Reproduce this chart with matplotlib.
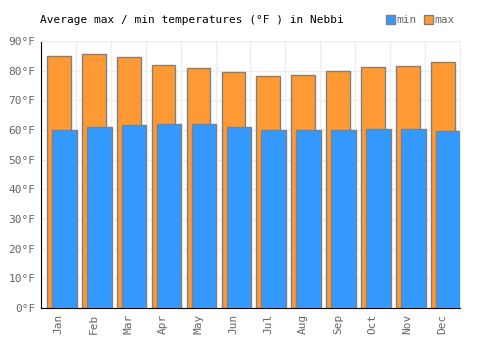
import matplotlib
matplotlib.use("Agg")
import matplotlib.pyplot as plt
import matplotlib.patches as mpatches
import numpy as np

months = ["Jan", "Feb", "Mar", "Apr", "May", "Jun", "Jul", "Aug", "Sep", "Oct", "Nov", "Dec"]
max_temp = [84.9, 85.6, 84.6, 81.9, 80.9, 79.5, 78.2, 78.5, 79.9, 81.2, 81.6, 82.9]
min_temp = [60.0, 61.0, 61.7, 62.0, 62.0, 61.0, 60.0, 60.0, 60.0, 60.3, 60.3, 59.7]
yticks = [0, 10, 20, 30, 40, 50, 60, 70, 80, 90]

plt.rcParams["font.family"] = ["DejaVu Sans Mono"]

fig = plt.figure(figsize=(5, 3.5), dpi=100)
ax = fig.add_axes([0.082, 0.12, 0.838, 0.763])

x = np.arange(len(months))
orange = "#ff9933"
blue = "#3399ff"
edge = "#808080"

# max drawn first, min overlaps it shifted right
ax.bar(x + 0.01, max_temp, width=0.68, color=orange, edgecolor=edge, linewidth=1, zorder=2)
ax.bar(x + 0.167, min_temp, width=0.705, color=blue, edgecolor=edge, linewidth=1, zorder=3)

ax.set_xlim(-0.5, 11.5)
ax.set_ylim(0, 90)
ax.set_yticks(yticks)
ax.set_yticklabels([f"{t}°F" for t in yticks], fontsize=8, color="#666666")
ax.set_xticks(x)
ax.set_xticklabels(months, rotation=90, fontsize=8, color="#666666")
ax.set_xticks(np.arange(-0.5, 12, 1), minor=True)
ax.tick_params(axis="both", which="both", length=0, pad=4)

ax.grid(True, axis="y", color="#eeeeee", linewidth=1, zorder=0)
ax.grid(True, axis="x", which="minor", color="#eeeeee", linewidth=1, zorder=0)
ax.grid(False, axis="x", which="major")
ax.set_axisbelow(True)

for s in ["top", "right"]:
    ax.spines[s].set_color("#eeeeee")
ax.spines["left"].set_color("black")
ax.spines["bottom"].set_color("black")

fig.text(0.08, 0.942, "Average max / min temperatures (°F ) in Nebbi", fontsize=8, color="black", va="center")

handles = [mpatches.Patch(facecolor=blue, edgecolor=edge, label="min"),
           mpatches.Patch(facecolor=orange, edgecolor=edge, label="max")]
fig.legend(handles=handles, loc="center right", bbox_to_anchor=(0.93, 0.942), ncol=2, frameon=False,
           fontsize=8, handlelength=0.8, handleheight=0.8, handletextpad=0.2, columnspacing=0.6,
           labelcolor="#666666")

fig.savefig("out.png", dpi=100)
